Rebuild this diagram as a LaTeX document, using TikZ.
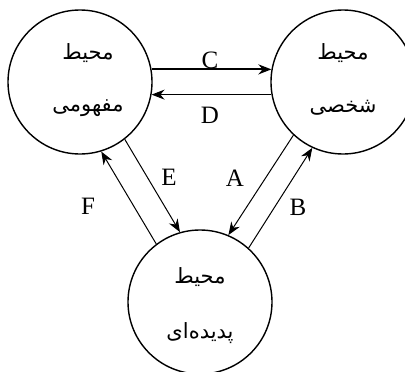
\documentclass[tikz,border=0pt]{standalone}
\usepackage{fontspec}
\setmainfont{Liberation Serif}
\newfontfamily\arabicfont[Script=Arabic]{DejaVu Sans}
\TeXXeTstate=1
\usetikzlibrary{arrows.meta}
\begin{document}
\begin{tikzpicture}[x=1pt,y=-1pt,
  env/.style={circle, draw, line width=1.4pt, minimum size=144pt, inner sep=0pt},
  fa/.style={font=\fontsize{21}{24}\selectfont\arabicfont, inner sep=0pt},
  lbl/.style={font=\fontsize{25}{28}\selectfont, inner sep=0pt},
  link/.style={line width=1pt, -{Stealth[length=13pt,width=10pt]}},
  thick link/.style={line width=2pt, -{Stealth[length=13pt,width=10pt]}}]
\useasboundingbox (0,0) rectangle (405,372);
\clip (0,0) rectangle (405,372);
\node[env] (L) at (80,82) {};
\node[env] (R) at (343,82) {};
\node[env] (B) at (200,302) {};
\node[fa] (L1) at (88,53) {\beginR محیط\endR};
\node[fa] (L2) at (88,108) {\beginR مفهومی\endR};
\node[fa] (R1) at (343,53) {\beginR محیط\endR};
\node[fa] (R2) at (343,108) {\beginR شخصی\endR};
\node[fa] (B1) at (200,277) {\beginR محیط\endR};
\node[fa] (B2) at (200,333) {\beginR پدیده‌ای\endR};
\draw[thick link] (L.10) -- (R.170);
\draw[link] (R.190) -- (L.-10);
\draw[link] (L.-52) -- (B.106);
\draw[link] (B.127) -- (L.-73);
\draw[link] (R.-133) -- (B.67);
\draw[link] (B.48) -- (R.-115);
\node[lbl] (lC) at (210,60) {C};
\node[lbl] (lD) at (210,115) {D};
\node[lbl] (lE) at (169,177) {E};
\node[lbl] (lA) at (235,178) {A};
\node[lbl] (lF) at (88,206) {F};
\node[lbl] (lB) at (298,207) {B};
\end{tikzpicture}
\end{document}
